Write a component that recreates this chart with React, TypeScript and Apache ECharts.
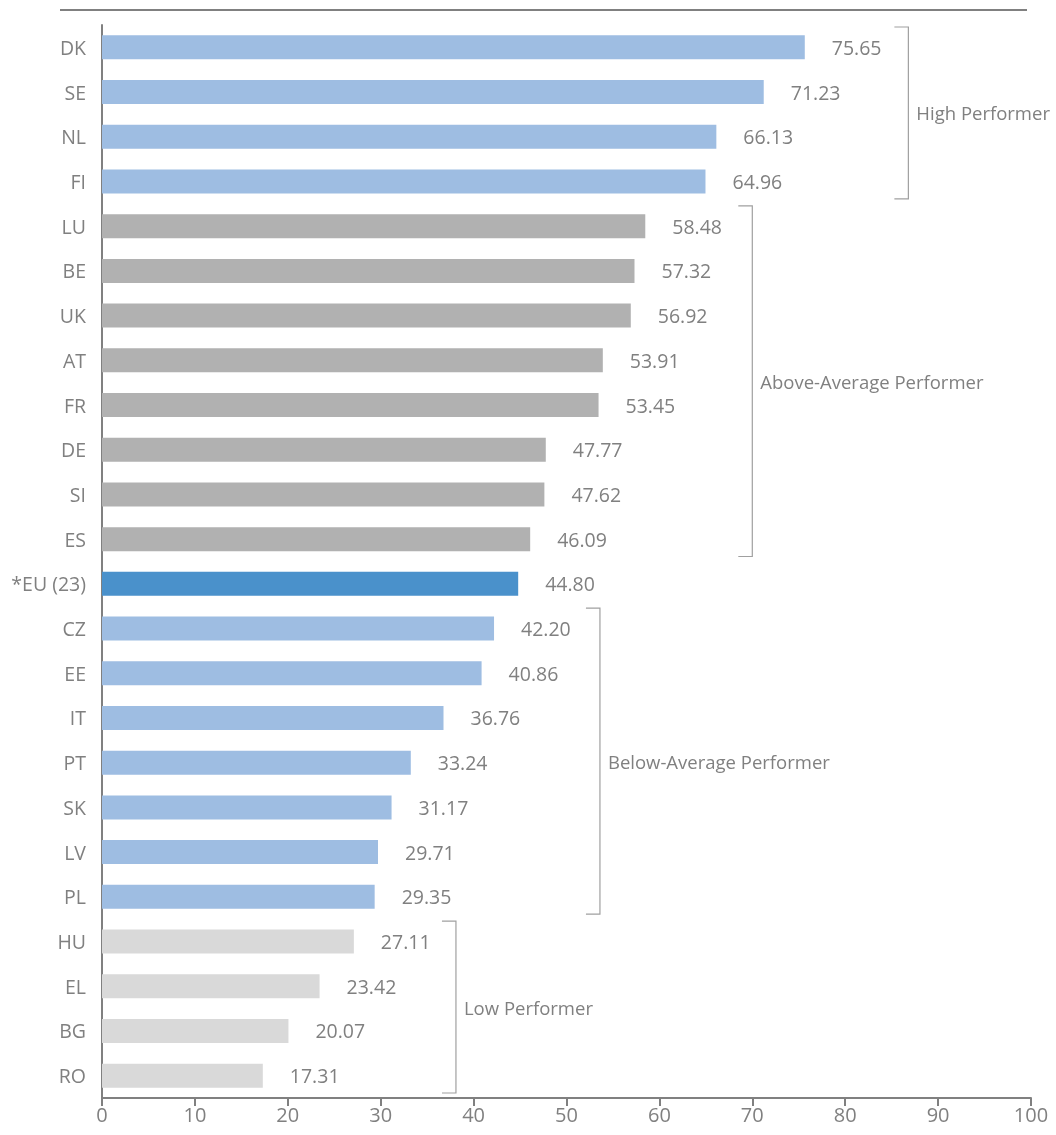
import React, { useEffect, useRef } from "react";
import * as echarts from "echarts";

const categories = ["DK","SE","NL","FI","LU","BE","UK","AT","FR","DE","SI","ES","*EU (23)","CZ","EE","IT","PT","SK","LV","PL","HU","EL","BG","RO"];
const values = [75.65,71.23,66.13,64.96,58.48,57.32,56.92,53.91,53.45,47.77,47.62,46.09,44.80,42.20,40.86,36.76,33.24,31.17,29.71,29.35,27.11,23.42,20.07,17.31];
const groups = ["high","high","high","high","above","above","above","above","above","above","above","above","eu","below","below","below","below","below","below","below","low","low","low","low"];
const groupColors: Record<string, string> = { high: "#9ebde2", above: "#b1b1b1", eu: "#4a91cb", below: "#9ebde2", low: "#d9d9d9" };
// bracket: label, first index, last index, x position (data units)
const brackets = [
  { label: "High Performer", from: 0, to: 3, x: 86.8 },
  { label: "Above-Average Performer", from: 4, to: 11, x: 70 },
  { label: "Below-Average Performer", from: 13, to: 19, x: 53.6 },
  { label: "Low Performer", from: 20, to: 23, x: 38.1 },
];

const FONT = "Open Sans";
const GREY = "#808080";

export default function App() {
  const ref = useRef<HTMLDivElement>(null);
  useEffect(() => {
    const chart = echarts.init(ref.current!, null, { renderer: "svg" });
    chart.setOption({
      animation: false,
      grid: { left: 102, right: 25, top: 25, bottom: 37, containLabel: false },
      xAxis: {
        type: "value", min: 0, max: 100, interval: 10,
        axisLine: { show: true, lineStyle: { color: GREY, width: 2 } },
        axisTick: { show: true, length: 8, lineStyle: { color: GREY, width: 2 } },
        axisLabel: { color: GREY, fontFamily: FONT, fontSize: 20, margin: 6 },
        splitLine: { show: false },
      },
      yAxis: {
        type: "category", data: categories, inverse: true,
        axisLine: { show: true, lineStyle: { color: GREY, width: 2 } },
        axisTick: { show: false },
        axisLabel: { color: GREY, fontFamily: FONT, fontSize: 19.5, margin: 16 },
      },
      series: [{
        type: "bar",
        barWidth: 24,
        data: values.map((v, i) => ({ value: v, itemStyle: { color: groupColors[groups[i]] } })),
        label: {
          show: true, position: "right", distance: 27,
          color: GREY, fontFamily: FONT, fontSize: 19.5,
          formatter: (p: any) => Number(p.value).toFixed(2),
        },
      }],
    });

    const graphics: any[] = [
      { type: "line", shape: { x1: 60, y1: 10, x2: 1027, y2: 10 }, style: { stroke: GREY, lineWidth: 2 } },
    ];
    const yc = (i: number) => chart.convertToPixel({ yAxisIndex: 0 }, i) as number;
    const band = yc(1) - yc(0);
    brackets.forEach((b) => {
      const x = chart.convertToPixel({ xAxisIndex: 0 }, b.x) as number;
      const y1 = yc(b.from) - band / 2 + 2;
      const y2 = yc(b.to) + band / 2 - 5;
      graphics.push({
        type: "polyline",
        shape: { points: [[x - 14, y1], [x, y1], [x, y2], [x - 14, y2]] },
        style: { stroke: "#a0a0a0", lineWidth: 1.2, fill: "none" },
      });
      graphics.push({
        type: "text", x: x + 8, y: (y1 + y2) / 2,
        style: { text: b.label, fill: GREY, font: `18.5px "${FONT}"`, textVerticalAlign: "middle", verticalAlign: "middle" },
      });
    });
    chart.setOption({ graphic: graphics });
    return () => chart.dispose();
  }, []);
  return <div ref={ref} style={{ position: "fixed", left: 0, top: 0, width: 1056, height: 1135 }} />;
}
